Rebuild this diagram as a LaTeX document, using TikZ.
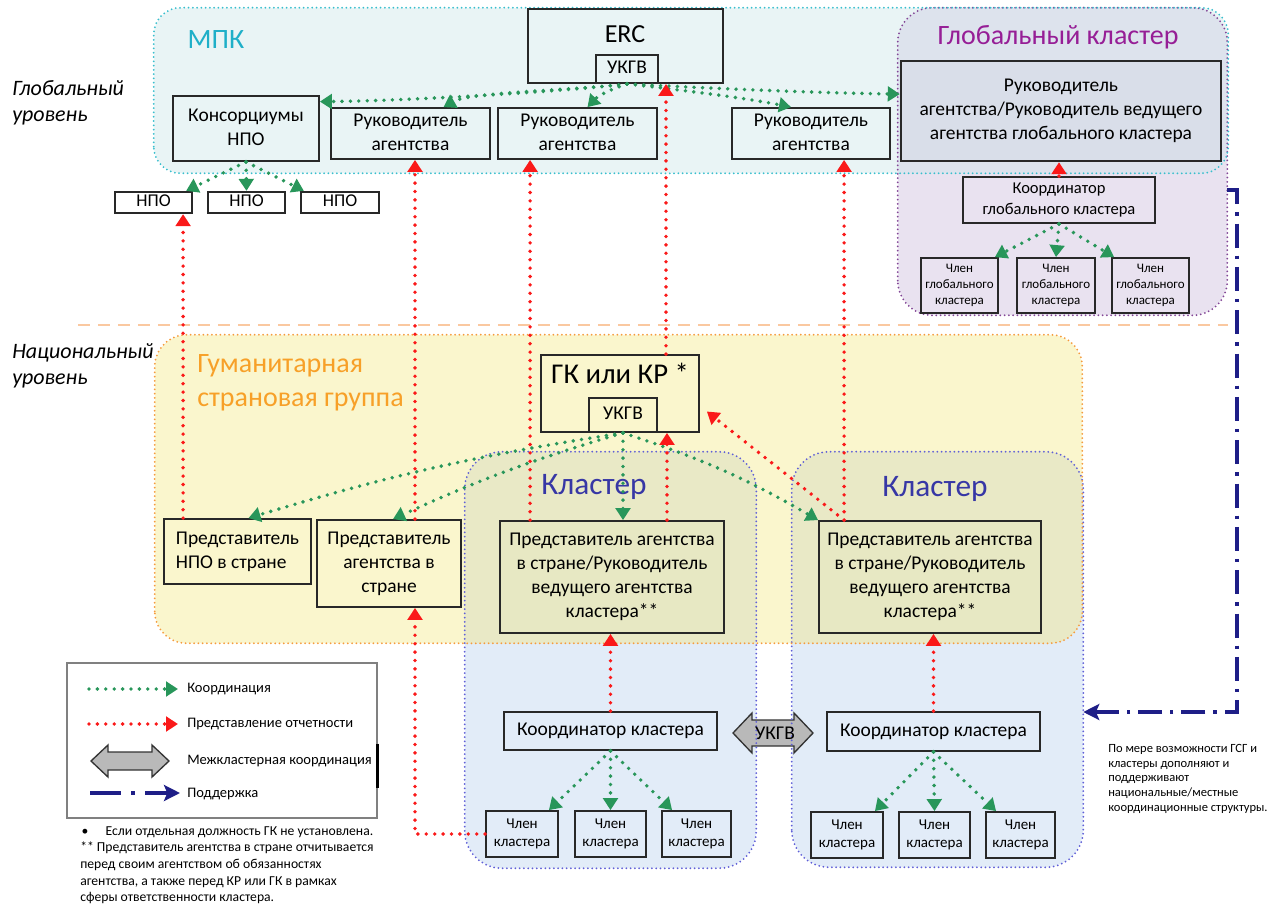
\documentclass[tikz,border=0pt]{standalone}
\usepackage{fontspec}
\setmainfont{Carlito}
\usetikzlibrary{arrows.meta,fit,calc}
\definecolor{mpkfill}{RGB}{233,244,245}
\definecolor{mpkline}{RGB}{55,190,205}
\definecolor{mpktext}{RGB}{30,175,200}
\definecolor{gcfill}{RGB}{233,226,240}
\definecolor{gcover}{RGB}{221,227,237}
\definecolor{gcline}{RGB}{130,70,150}
\definecolor{gctext}{RGB}{150,30,150}
\definecolor{gbigfill}{RGB}{217,222,233}
\definecolor{hctfill}{RGB}{250,246,205}
\definecolor{hctline}{RGB}{245,155,60}
\definecolor{hcttext}{RGB}{247,160,40}
\definecolor{clfill}{RGB}{226,236,248}
\definecolor{clover}{RGB}{233,233,198}
\definecolor{clline}{RGB}{95,95,215}
\definecolor{cltext}{RGB}{55,55,165}
\definecolor{leadfill}{RGB}{231,232,195}
\definecolor{cgreen}{RGB}{40,150,90}
\definecolor{cred}{RGB}{250,25,25}
\definecolor{cnavy}{RGB}{30,30,135}
\definecolor{boxline}{RGB}{40,40,40}
\definecolor{divline}{RGB}{250,200,160}
\newcommand{\fsbody}{\fontsize{14.6pt}{18pt}\selectfont}
\newcommand{\fsbig}{\fontsize{19.5pt}{24pt}\selectfont}
\newcommand{\fsgk}{\fontsize{21.5pt}{26pt}\selectfont}
\newcommand{\fsreg}{\fontsize{21pt}{25.5pt}\selectfont}
\newcommand{\fsclu}{\fontsize{23.5pt}{27pt}\selectfont}
\newcommand{\fslvl}{\fontsize{16.5pt}{20pt}\selectfont}
\newcommand{\fscg}{\fontsize{12.4pt}{15.5pt}\selectfont}
\newcommand{\fsgm}{\fontsize{9.75pt}{12pt}\selectfont}
\newcommand{\fsnpo}{\fontsize{13.5pt}{16pt}\selectfont}
\newcommand{\fsmem}{\fontsize{11.25pt}{13.5pt}\selectfont}
\newcommand{\fsleg}{\fontsize{10.9pt}{13pt}\selectfont}
\newcommand{\fsfoot}{\fontsize{10.25pt}{12.5pt}\selectfont}
\newcommand{\fsnote}{\fontsize{9.4pt}{11pt}\selectfont}
\newcommand{\ctab}[1]{\begin{tabular}{@{}c@{}}#1\end{tabular}}
\newcommand{\ltab}[1]{\begin{tabular}{@{}l@{}}#1\end{tabular}}
% box: [options]{name}{corner points}{font}{text}
\newcommand{\mkbox}[5][]{%
  \node[box,#1,fit={#3}] (#2) {};
  \node[txt,font=#4] (#2t) at (#2.center) {\ctab{#5}};}
\begin{document}
\begin{tikzpicture}[x=0.75pt,y=-0.75pt,
  box/.style={draw=boxline, line width=1.35pt, inner sep=0pt},
  region/.style={inner sep=0pt, draw=none},
  dotb/.style={line width=1.5pt, line cap=round, dash pattern=on 0pt off 3.2pt},
  coord/.style={draw=cgreen, line width=2.9pt, line cap=round, dash pattern=on 0pt off 6.3pt, -{Triangle[length=9pt,width=11pt]}},
  report/.style={draw=cred, line width=2.9pt, line cap=round, dash pattern=on 0pt off 6.3pt, -{Triangle[length=9pt,width=11pt]}},
  support/.style={draw=cnavy, line width=2.4pt, dash pattern=on 18pt off 6pt on 2.5pt off 6pt, -{Stealth[length=12pt,width=12pt,inset=2.5pt]}},
  txt/.style={inner sep=0pt}]
\useasboundingbox (0,0) rectangle (1272,908);

% ---------- regions ----------
\node[region, fill=gcfill, rounded corners=26pt, fit={(898,8) (1227,315)}] (glob) {};
\node[region, fill=mpkfill, rounded corners=20pt, fit={(154,8) (1228,173)}] (mpk) {};
\begin{scope}
  \clip[rounded corners=20pt] (mpk.south west) rectangle (mpk.north east);
  \fill[gcover, rounded corners=26pt] (glob.south west) rectangle (glob.north east);
\end{scope}
\node[region, fill=hctfill, rounded corners=24pt, fit={(155,335) (1082,643)}] (hct) {};
\node[region, fill=clfill, rounded corners=28pt, fit={(465,452) (756,868)}] (clL) {};
\node[region, fill=clfill, rounded corners=28pt, fit={(792,452) (1083,867)}] (clR) {};
\begin{scope}
  \clip[rounded corners=24pt] (hct.south west) rectangle (hct.north east);
  \fill[clover, rounded corners=28pt] (clL.south west) rectangle (clL.north east);
  \fill[clover, rounded corners=28pt] (clR.south west) rectangle (clR.north east);
\end{scope}

% UKGV inter-cluster double arrow
\filldraw[fill=gray!55, draw=gray!40!black, line width=1pt]
  (733,733) -- (752,713) -- (752,720) -- (794,720) -- (794,713) -- (813,733)
  -- (794,753) -- (794,746) -- (752,746) -- (752,753) -- cycle;

\draw[dotb, draw=gcline, rounded corners=26pt] (glob.south west) rectangle (glob.north east);
\draw[dotb, draw=mpkline, rounded corners=20pt] (mpk.south west) rectangle (mpk.north east);
\draw[dotb, draw=clline, rounded corners=28pt] (clL.south west) rectangle (clL.north east);
\draw[dotb, draw=clline, rounded corners=28pt] (clR.south west) rectangle (clR.north east);
\draw[dotb, draw=hctline, rounded corners=24pt] (hct.south west) rectangle (hct.north east);

\node[txt, font=\fsbody] (ukgvC) at (775,733) {УКГВ};

% divider
\coordinate (dv1) at (78,325);
\coordinate (dv2) at (1228,325);
\draw[divline, line width=2pt, dash pattern=on 9pt off 6pt] (dv1) -- (dv2);

% ---------- labels ----------
\node[txt, font=\fsreg, text=mpktext] (mpklbl) at (216,40) {МПК};
\node[txt, font=\fsreg, text=gctext] (gclbl) at (1058,37) {Глобальный кластер};
\node[txt, font=\fsreg, text=hcttext, align=left, anchor=north west] (hctlbl) at (197,354) {Гуманитарная\\страновая группа};
\node[txt, font=\fsclu, text=cltext] (cllbl) at (594,487) {Кластер};
\node[txt, font=\fsclu, text=cltext] (crlbl) at (935,489) {Кластер};
\node[txt, font=\fslvl\itshape, align=left, anchor=north west] (lvg) at (12,80) {Глобальный\\уровень};
\node[txt, font=\fslvl\itshape, align=left, anchor=north west] (lvn) at (12,343) {Национальный\\уровень};

% ---------- global level boxes ----------
\node[box, fill=mpkfill, fit={(528,9) (723,83)}] (erc) {};
\node[txt, font=\fsbig] (erclbl) at (625,34) {ERC};
\mkbox[fill=mpkfill]{ukgvA}{(596,55) (658,83)}{\fsbody}{УКГВ}
\mkbox[fill=mpkfill]{con}{(173,96) (319,161)}{\fsbody}{Консорциумы\\НПО}
\mkbox[fill=mpkfill]{r1}{(331,108) (490,159)}{\fsbody}{Руководитель\\агентства}
\mkbox[fill=mpkfill]{r2}{(498,108) (657,159)}{\fsbody}{Руководитель\\агентства}
\mkbox[fill=mpkfill]{r3}{(732,108) (890,159)}{\fsbody}{Руководитель\\агентства}
\mkbox[fill=gbigfill, line width=1.8pt]{gbig}{(901,61) (1221,161)}{\fsbody}{Руководитель\\агентства/Руководитель ведущего\\агентства глобального кластера}
\mkbox[fill=gcfill]{cg}{(963,177) (1155,223)}{\fscg}{Координатор\\глобального кластера}
\mkbox[fill=gcfill]{gm1}{(921,258) (998,313)}{\fsgm}{Член\\глобального\\кластера}
\mkbox[fill=gcfill]{gm2}{(1017,258) (1095,313)}{\fsgm}{Член\\глобального\\кластера}
\mkbox[fill=gcfill]{gm3}{(1112,258) (1189,313)}{\fsgm}{Член\\глобального\\кластера}
\mkbox[fill=white, line width=1.7pt]{npo1}{(115,192) (192,213)}{\fsnpo}{НПО}
\mkbox[fill=white, line width=1.7pt]{npo2}{(208,192) (285,213)}{\fsnpo}{НПО}
\mkbox[fill=white, line width=1.7pt]{npo3}{(301,192) (379,213)}{\fsnpo}{НПО}

% ---------- national level boxes ----------
\node[box, fill=hctfill, fit={(541,355) (699,432)}] (gk) {};
\node[txt, font=\fsgk] (gklbl) at (620,373.5) {ГК или КР *};
\mkbox[fill=hctfill]{ukgvB}{(589,398) (657,432)}{\fsbody}{УКГВ}
\node[box, fill=hctfill, fit={(164,519) (311,584)}] (hn) {};
\node[txt, font=\fsbody] (hnt) at (hn.center) {\ltab{Представитель\\НПО в стране}};
\mkbox[fill=hctfill]{ha}{(317,520) (461,607)}{\fsbody}{Представитель\\агентства в\\стране}
\mkbox[fill=leadfill]{ll}{(500,521) (724,633)}{\fsbody}{Представитель агентства\\в стране/Руководитель\\ведущего агентства\\кластера**}
\mkbox[fill=leadfill]{rl}{(819,521) (1041,633)}{\fsbody}{Представитель агентства\\в стране/Руководитель\\ведущего агентства\\кластера**}
\mkbox[fill=clfill]{cl}{(504,712) (717,750)}{\fsbody}{Координатор кластера}
\mkbox[fill=clfill]{cr}{(827,712) (1040,751)}{\fsbody}{Координатор кластера}
\mkbox[fill=clfill]{lm1}{(486,811) (558,857)}{\fsmem}{Член\\кластера}
\mkbox[fill=clfill]{lm2}{(575,811) (646,857)}{\fsmem}{Член\\кластера}
\mkbox[fill=clfill]{lm3}{(662,811) (731,857)}{\fsmem}{Член\\кластера}
\mkbox[fill=clfill]{rm1}{(811,812) (883,858)}{\fsmem}{Член\\кластера}
\mkbox[fill=clfill]{rm2}{(899,812) (970,858)}{\fsmem}{Член\\кластера}
\mkbox[fill=clfill]{rm3}{(986,812) (1055,858)}{\fsmem}{Член\\кластера}

% ---------- coordination arrows (green) ----------
\draw[coord] (ukgvA.south) .. controls (560,92) and (400,101) .. (con.20);
\draw[coord] (ukgvA.south) .. controls (580,90) and (470,92) .. ($(r1.north)+(33,0)$);
\draw[coord] (ukgvA.south) .. controls (615,88) and (600,94) .. ($(r2.north)+(10,0)$);
\draw[coord] (ukgvA.south) .. controls (680,90) and (740,97) .. ($(r3.north)+(-20,0)$);
\draw[coord] (ukgvA.south) .. controls (700,88) and (820,93) .. (gbig.174);

\draw[coord] (con.south) -- ($(npo1.north east)+(-7,0)$);
\draw[coord] (con.south) -- (npo2.north);
\draw[coord] (con.south) -- ($(npo3.north west)+(4,0)$);

\draw[coord] (cg.south) -- ($(gm1.north east)+(-4,0)$);
\draw[coord] (cg.south) -- (gm2.north);
\draw[coord] (cg.south) -- ($(gm3.north west)+(3,0)$);

\draw[coord] (ukgvB.south) to[bend right=4] ($(hn.north)+(11,0)$);
\draw[coord] (ukgvB.south) to[bend right=4] ($(ha.north)+(4,0)$);
\draw[coord] (ukgvB.south) -- (ukgvB.south |- ll.north);
\draw[coord] (ukgvB.south) to[bend left=6] (rl.north west);

\draw[coord] (cl.south) -- ($(lm1.north east)+(-10,0)$);
\draw[coord] (cl.south) -- (lm2.north);
\draw[coord] (cl.south) -- ($(lm3.north west)+(11,0)$);
\draw[coord] (cr.south) -- ($(rm1.north east)+(-9,0)$);
\draw[coord] (cr.south) -- (rm2.north);
\draw[coord] (cr.south) -- ($(rm3.north west)+(11,0)$);

% ---------- reporting arrows (red) ----------
\coordinate (rA) at ($(hn.north west)+(20,0)$);
\coordinate (rB) at ($(ha.north)+(26,0)$);
\coordinate (rC) at ($(ll.north west)+(31,0)$);
\coordinate (rD) at ($(ll.north)+(55,0)$);
\coordinate (rE) at ($(gk.north)+(46,0)$);
\coordinate (rF) at ($(rl.north west)+(26,0)$);
\draw[report] (rA) -- (rA |- npo1.south);
\draw[report] (rB) -- (rB |- r1.south);
\draw[report] (rC) -- (rC |- r2.south);
\draw[report] (rD) -- (rD |- gk.south);
\draw[report] (rE) -- (rE |- erc.south);
\draw[report] (rF) -- (rF |- r3.south);
\draw[report] (rF) -- ($(gk.east)+(7,18)$);
\draw[report] (cl.north) -- (cl.north |- ll.south);
\draw[report] (cr.north) -- (cr.north |- rl.south);
\draw[report] (cg.north) -- (cg.north |- gbig.south);
\draw[report] (lm1.west) -| ($(ha.south)+(26,0)$);

% ---------- support arrow ----------
\coordinate (s1) at (1237,190);
\coordinate (s2) at (1237,712);
\draw[support] (glob.east |- s1) -- (s1) -- (s2) -- (s2 -| clR.east);

% ---------- legend ----------
\node[draw=gray, line width=1.1pt, inner sep=0pt, fit={(67,663) (377,818)}] (leg) {};
\draw[line width=2.4pt] ($(leg.east)+(0,3)$) -- ($(leg.east)+(0,47)$);
\coordinate (lg1a) at (89,689);  \coordinate (lg1b) at (178,689);
\coordinate (lg2a) at (89,724);  \coordinate (lg2b) at (178,724);
\coordinate (lg4a) at (90,793);  \coordinate (lg4b) at (180,793);
\draw[coord] (lg1a) -- (lg1b);
\draw[report] (lg2a) -- (lg2b);
\filldraw[fill=gray!55, draw=gray!40!black, line width=1pt]
  (91,761) -- (108,745) -- (108,752) -- (152,752) -- (152,745) -- (169,761)
  -- (152,777) -- (152,770) -- (108,770) -- (108,777) -- cycle;
\draw[support, dash pattern=on 23pt off 8pt on 2.5pt off 8pt] (lg4a) -- (lg4b);
\node[txt, font=\fsleg, anchor=west] (lt1) at (187,689) {Координация};
\node[txt, font=\fsleg, anchor=west] (lt2) at (187,724) {Представление отчетности};
\node[txt, font=\fsleg, anchor=west] (lt3) at (187,761) {Межкластерная координация};
\node[txt, font=\fsleg, anchor=west] (lt4) at (187,794) {Поддержка};

% ---------- notes ----------
\node[txt, font=\fsfoot, align=left, anchor=north west] (foot) at (80,826)
  {\hspace*{1pt}•\hspace{13pt}Если отдельная должность ГК не установлена.\\
   ** Представитель агентства в стране отчитывается\\
   перед своим агентством об обязанностях\\
   агентства, а также перед КР или ГК в рамках\\
   сферы ответственности кластера.};
\node[txt, font=\fsnote, align=left, anchor=north west] (note) at (1108,744)
  {По мере возможности ГСГ и\\кластеры дополняют и\\поддерживают\\национальные/местные\\координационные структуры.};
\end{tikzpicture}
\end{document}
